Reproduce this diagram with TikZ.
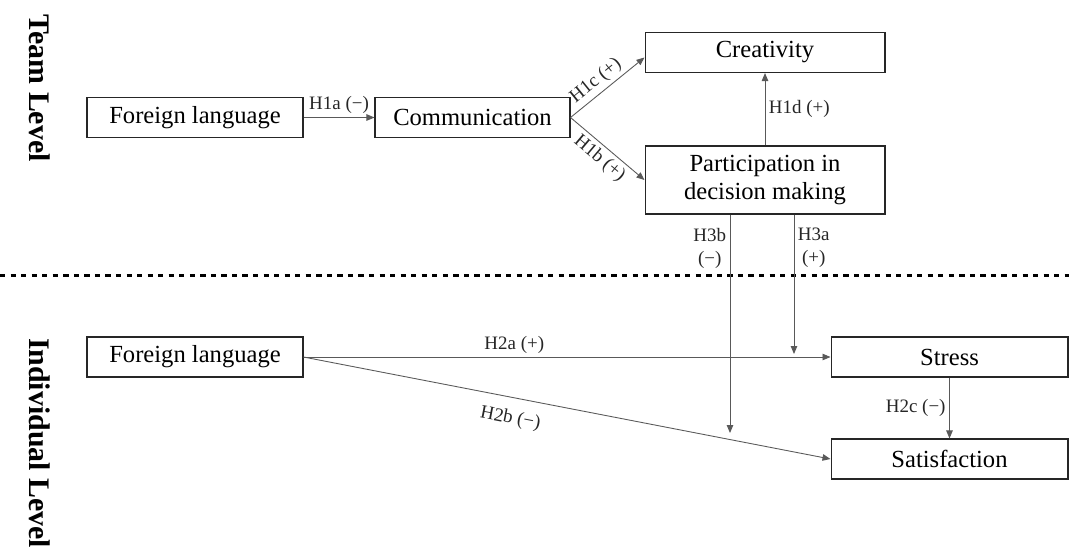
\documentclass[tikz,border=0pt]{standalone}
\usepackage{fontspec}
\setmainfont{Liberation Serif}
\usetikzlibrary{arrows.meta,positioning,calc}

\begin{document}
\begin{tikzpicture}[x=0.02cm, y=-0.02cm,
  box/.style={draw=black!85, line width=0.6pt, fill=white, minimum height=0.8cm,
              inner sep=2pt, align=center, font=\fontsize{14}{16.5}\selectfont},
  lbl/.style={font=\fontsize{10.8}{13}\selectfont, text=black!85, inner sep=2pt},
  level/.style={font=\fontsize{17}{20}\selectfont\bfseries, rotate=-90},
  link/.style={draw=black!65, line width=0.5pt, ->},
  >={Triangle[length=1.6mm,width=1.3mm]}]
  \useasboundingbox (0,0) rectangle (1069,552);
  % team level
  \node[box, minimum width=4.32cm] (flteam) at (195,117.5) {Foreign language};
  \node[box, minimum width=3.9cm] (comm) at (472.5,117.5) {Communication};
  \node[box, minimum width=4.8cm] (creat) at (765,52.5) {Creativity};
  \node[box, minimum width=4.8cm, minimum height=1.36cm] (part) at (765,180)
      {Participation in\\ decision making};
  % individual level
  \node[box, minimum width=4.32cm] (flind) at (195,357) {Foreign language};
  \node[box, minimum width=4.74cm] (stress) at (949.5,357) {Stress};
  \node[box, minimum width=4.74cm] (satis) at (949.5,459) {Satisfaction};
  \node[level] (team) at (40,88) {Team Level};
  \node[level] (indiv) at (40,443) {Individual Level};
  \draw[line width=1.7pt, dash pattern=on 3pt off 3pt] (0,275) -- (1069,275);
  \coordinate (h3bend) at (730,433);
  \coordinate (h3aend) at (794,354);
  \draw[link] (flteam) -- node[lbl, above] {H1a (−)} (comm);
  \draw[link] (comm.east) -- node[lbl, above, sloped, pos=0.45] {H1c (+)} ([yshift=-0.1cm]creat.west);
  \draw[link] (comm.east) -- node[lbl, below, sloped] {H1b (+)} (part.west);
  \draw[link] (part) -- node[lbl, right] {H1d (+)} (creat);
  \draw[link] (part.south -| h3bend) -- node[lbl, left, align=center, pos=0.155] {H3b\\(−)} (h3bend);
  \draw[link] (part.south -| h3aend) -- node[lbl, right, align=center, pos=0.24] {H3a\\(+)} (h3aend);
  \draw[link] (flind) -- node[lbl, above, pos=0.4] {H2a (+)} (stress);
  \draw[link] (flind.east) -- node[lbl, below=5pt, sloped, pos=0.4] {H2b (−)} (satis.west);
  \draw[link] (stress) -- node[lbl, left] {H2c (−)} (satis);
\end{tikzpicture}
\end{document}
